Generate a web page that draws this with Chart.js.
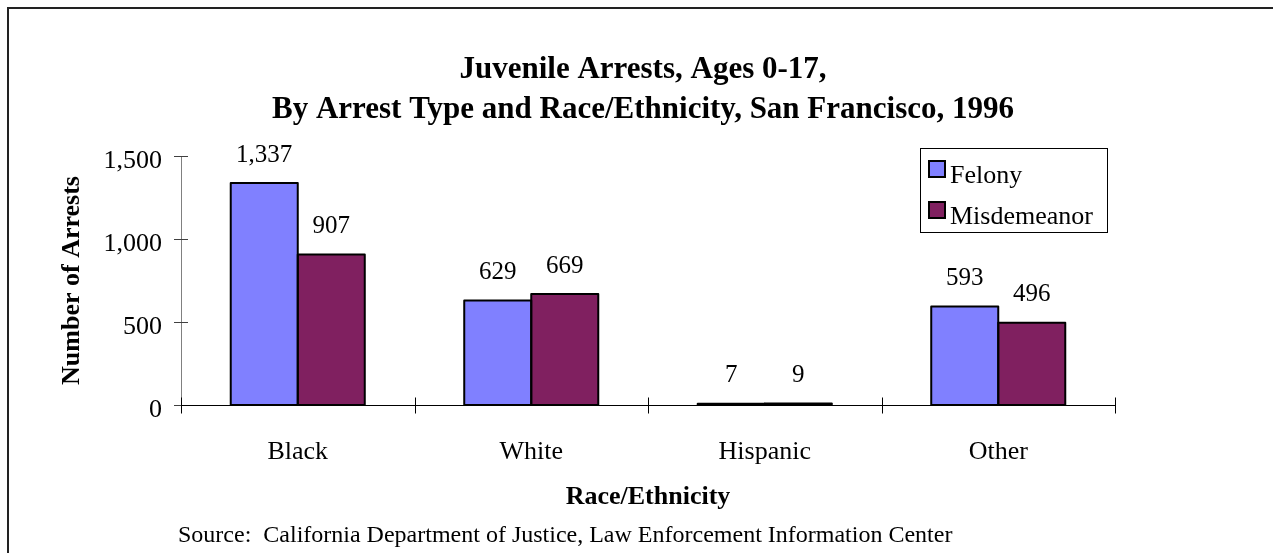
<!DOCTYPE html>
<html>
<head>
<meta charset="utf-8">
<script src="https://cdn.jsdelivr.net/npm/chart.js@4/dist/chart.umd.min.js"></script>
<style>
html,body{margin:0;padding:0;background:#fff;overflow:hidden;}
#wrap{position:relative;width:1273px;height:553px;}
</style>
</head>
<body>
<div id="wrap"><canvas id="c" width="1273" height="553"></canvas></div>
<script>
const titleLines = ["Juvenile Arrests, Ages 0-17,", "By Arrest Type and Race/Ethnicity, San Francisco, 1996"];
const categories = ["Black", "White", "Hispanic", "Other"];
const felony = [1337, 629, 7, 593];
const misdemeanor = [907, 669, 9, 496];
const seriesNames = ["Felony", "Misdemeanor"];
const yTicks = [0, 500, 1000, 1500];
const xTitle = "Race/Ethnicity";
const yTitle = "Number of Arrests";
const sourceText = "Source:  California Department of Justice, Law Enforcement Information Center";

const SERIF = '"Liberation Serif", "Times New Roman", serif';
const colors = ["#8080FF", "#802060"];

const decor = {
  id: 'decor',
  beforeDraw(chart) {
    const ctx = chart.ctx;
    ctx.save();
    ctx.fillStyle = '#fff';
    ctx.fillRect(0, 0, chart.width, chart.height);
    ctx.fillStyle = '#222';
    ctx.fillRect(7, 7, 2, chart.height);
    ctx.fillRect(7, 7, chart.width, 2);
    ctx.restore();
  },
  afterDatasetsDraw(chart) {
    const ctx = chart.ctx;
    ctx.save();
    ctx.strokeStyle = '#000';
    ctx.lineWidth = 2;
    ctx.lineJoin = 'round';
    chart.data.datasets.forEach((ds, di) => {
      chart.getDatasetMeta(di).data.forEach(bar => {
        const p = bar.getProps(['x', 'y', 'base', 'width'], true);
        ctx.strokeRect(p.x - p.width / 2, p.y, p.width, p.base - p.y);
      });
    });
    ctx.restore();
  },
  afterDraw(chart) {
    const ctx = chart.ctx;
    const ca = chart.chartArea;
    const xs = chart.scales.x, ys = chart.scales.y;
    ctx.save();
    // y axis line and ticks
    ctx.strokeStyle = '#808080';
    ctx.lineWidth = 1;
    ctx.beginPath();
    ctx.moveTo(ca.left + 0.5, ys.getPixelForValue(yTicks[yTicks.length-1]));
    ctx.lineTo(ca.left + 0.5, ys.getPixelForValue(0));
    ctx.stroke();
    ctx.strokeStyle = '#404040';
    yTicks.forEach(v => {
      const y = Math.round(ys.getPixelForValue(v)) + 0.5;
      ctx.beginPath();
      ctx.moveTo(ca.left - 7, y);
      ctx.lineTo(ca.left + 7, y);
      ctx.stroke();
    });
    // x axis line and ticks
    ctx.strokeStyle = '#000';
    const y0 = Math.round(ys.getPixelForValue(0)) + 0.5;
    ctx.beginPath();
    ctx.moveTo(ca.left, y0);
    ctx.lineTo(ca.right, y0);
    ctx.stroke();
    const n = categories.length;
    for (let i = 0; i <= n; i++) {
      const x = Math.round(ca.left + (ca.right - ca.left) * i / n) + 0.5;
      ctx.beginPath();
      ctx.moveTo(x, y0 - 8);
      ctx.lineTo(x, y0 + 8);
      ctx.stroke();
    }
    // data labels
    ctx.fillStyle = '#000';
    ctx.font = '25px ' + SERIF;
    ctx.textAlign = 'center';
    ctx.textBaseline = 'middle';
    chart.data.datasets.forEach((ds, di) => {
      const meta = chart.getDatasetMeta(di);
      meta.data.forEach((bar, i) => {
        ctx.fillText(ds.data[i].toLocaleString('en-US'), bar.x, bar.y - 28);
      });
    });
    // title
    ctx.font = 'bold 31px ' + SERIF;
    ctx.fillText(titleLines[0], 643, 70);
    ctx.fillText(titleLines[1], 643, 110);
    // axis titles
    ctx.font = 'bold 26px ' + SERIF;
    ctx.fillText(xTitle, (ca.left + ca.right) / 2, 497);
    ctx.save();
    ctx.translate(72, (ca.top + ca.bottom) / 2);
    ctx.rotate(-Math.PI / 2);
    ctx.fillText(yTitle, 0, 0);
    ctx.restore();
    // source
    ctx.font = '24px ' + SERIF;
    ctx.textAlign = 'left';
    ctx.fillText(sourceText, 178, 536);
    // legend
    const lx = 920, ly = 148, lw = 187, lh = 84;
    ctx.strokeStyle = '#000';
    ctx.lineWidth = 1;
    ctx.strokeRect(lx + 0.5, ly + 0.5, lw, lh);
    ctx.font = '26px ' + SERIF;
    chart.data.datasets.forEach((ds, di) => {
      const sy = 161 + di * 41;
      ctx.fillStyle = ds.backgroundColor;
      ctx.fillRect(929, sy, 16, 16);
      ctx.lineWidth = 2;
      ctx.strokeStyle = '#000';
      ctx.strokeRect(929, sy, 16, 16);
      ctx.fillStyle = '#000';
      ctx.textBaseline = 'middle';
      ctx.fillText(ds.label, 950, sy + 15);
    });
    ctx.restore();
  }
};

new Chart(document.getElementById('c'), {
  type: 'bar',
  data: {
    labels: categories,
    datasets: [
      { label: seriesNames[0], data: felony, backgroundColor: colors[0], borderWidth: 0 },
      { label: seriesNames[1], data: misdemeanor, backgroundColor: colors[1], borderWidth: 0 }
    ]
  },
  options: {
    responsive: false,
    animation: false,
    devicePixelRatio: 1,
    layout: { padding: { top: 156, right: 158, bottom: 0, left: 0 } },
    plugins: { legend: { display: false }, title: { display: false }, tooltip: { enabled: false } },
    datasets: { bar: { categoryPercentage: 0.574, barPercentage: 1.0 } },
    scales: {
      x: {
        grid: { display: false, drawTicks: false },
        border: { display: false },
        ticks: { color: '#000', font: { family: SERIF, size: 26 }, padding: 32, maxRotation: 0 },
        afterFit: s => { s.height = 148; }
      },
      y: {
        min: 0, max: 1500,
        afterBuildTicks: s => { s.ticks = yTicks.map(v => ({ value: v })); },
        grid: { display: false, drawTicks: false },
        border: { display: false },
        ticks: { color: '#000', font: { family: SERIF, size: 26 }, padding: 19, labelOffset: 5,
                 callback: v => v.toLocaleString('en-US') },
        afterFit: s => { s.width = 181; }
      }
    }
  },
  plugins: [decor]
});
</script>
</body>
</html>
